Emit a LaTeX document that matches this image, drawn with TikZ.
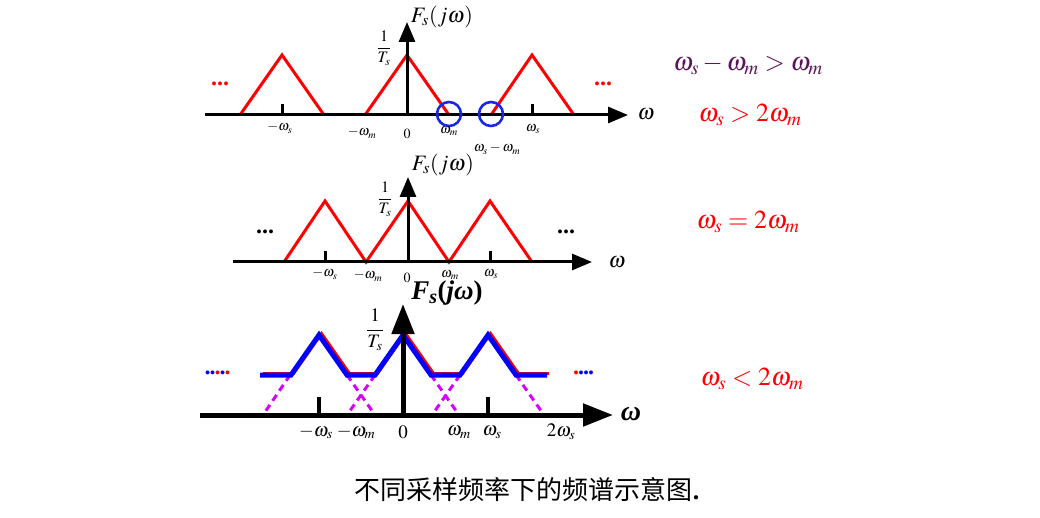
\documentclass[tikz,border=0pt]{standalone}
\usepackage{mathptmx}
\usepackage{fontspec}
\setmainfont{Liberation Serif}
\newfontfamily\cjkfont{Noto Sans CJK SC}
\usetikzlibrary{arrows.meta, positioning}
\definecolor{specred}{RGB}{255,0,0}
\definecolor{specblue}{RGB}{0,0,255}
\definecolor{ringblue}{RGB}{25,40,230}
\definecolor{aliasmag}{RGB}{215,0,255}
\definecolor{condpurple}{RGB}{90,20,90}
\newcommand{\bi}[1]{\textbf{\textit{#1}}}
\newcommand{\bd}[1]{\textcolor{specblue}{.}\kern-1pt}
\newcommand{\rd}[1]{\textcolor{specred}{.}\kern-1pt}
\tikzset{
  axis/.style={-{Triangle[length=20pt,width=16pt]}, line width=3pt, black},
  bigaxis/.style={-{Triangle[length=30pt,width=22pt]}, line width=5pt, black},
  tick/.style={line width=3pt, black},
  spec/.style={line width=3pt, specred, line join=miter},
  envred/.style={line width=3pt, specred},
  envblue/.style={line width=5pt, specblue},
  alias/.style={line width=3pt, aliasmag, dash pattern=on 7pt off 5pt},
  ring/.style={circle, draw=ringblue, line width=2.6pt, minimum size=24pt, inner sep=0pt},
  lab/.style={font=\fontsize{14}{16}\selectfont, inner sep=0pt},
  frac/.style={font=\fontsize{16}{18}\selectfont, inner sep=0pt},
  biglab/.style={font=\fontsize{19}{22}\selectfont, inner sep=0pt},
  title/.style={font=\fontsize{22}{24}\selectfont, inner sep=0pt},
  cond/.style={font=\fontsize{26}{30}\selectfont, inner sep=0pt},
  dots/.style={font=\fontsize{24}{26}\selectfont\bfseries, inner sep=0pt}
}
\begin{document}
\begin{tikzpicture}[x=1pt, y=-1pt]
  \useasboundingbox (0,0) rectangle (1040,518);

  % panel 1: omega_s > 2 omega_m
  \coordinate (a1l) at (205,115);
  \coordinate (a1r) at (628,115);
  \coordinate (o1) at (407,115);
  \coordinate (v1t) at (407,22);
  \draw[spec] (240,115) -- (282,55) -- (324,115);
  \draw[spec] (365,115) -- (407,55) -- (449,115);
  \draw[spec] (491,115) -- (532,55) -- (574,115);
  \draw[axis] (a1l) -- (a1r);
  \draw[axis] (o1) -- (v1t);
  \draw[tick] (282,115) -- (282,104);
  \draw[tick] (532,115) -- (532,104);
  \node[ring] (c1) at (449,114) {};
  \node[ring] (c2) at (491,114) {};
  \node[dots, specred] (d1l) at (220,84) {...};
  \node[dots, specred] (d1r) at (603,84) {...};
  \node[title] (f1) at (442,17) {$F_s(j\omega)$};
  \node[frac] (t1) at (384,48) {$\displaystyle\frac{1}{T_s}$};
  \node[title] (w1) at (646,114) {$\omega$};
  \node[lab] (n1a) at (280,128) {$-\omega_s$};
  \node[lab] (n1b) at (362,133) {$-\omega_m$};
  \node[lab] (n1c) at (407,134) {$0$};
  \node[lab] (n1d) at (449,131) {$\omega_m$};
  \node[lab] (n1e) at (533,129) {$\omega_s$};
  \node[lab] (n1f) at (497,149) {$\omega_s-\omega_m$};
  \node[cond, condpurple] (k1) at (748,65) {$\omega_s-\omega_m>\omega_m$};
  \node[cond, specred] (k2) at (750,115) {$\omega_s>2\omega_m$};

  % panel 2: omega_s = 2 omega_m
  \coordinate (a2l) at (233,262);
  \coordinate (a2r) at (592,262);
  \coordinate (o2) at (408,262);
  \coordinate (v2t) at (408,177);
  \draw[spec] (284,262) -- (325,201) -- (366,262) -- (408,201) -- (449,262)
    -- (490,201) -- (532,262);
  \draw[axis] (a2l) -- (a2r);
  \draw[axis] (o2) -- (v2t);
  \draw[tick] (325,262) -- (325,251);
  \draw[tick] (490,262) -- (490,251);
  \node[dots] (d2l) at (265,232) {...};
  \node[dots] (d2r) at (566,232) {...};
  \node[title] (f2) at (443,165) {$F_s(j\omega)$};
  \node[frac] (t2) at (385,199) {$\displaystyle\frac{1}{T_s}$};
  \node[title] (w2) at (617,262) {$\omega$};
  \node[lab] (n2a) at (325,274) {$-\omega_s$};
  \node[lab] (n2b) at (368,276) {$-\omega_m$};
  \node[lab] (n2c) at (407,278) {$0$};
  \node[lab] (n2d) at (450,275) {$\omega_m$};
  \node[lab] (n2e) at (491,274) {$\omega_s$};
  \node[cond, specred] (k3) at (748,222) {$\omega_s=2\omega_m$};

  % panel 3: omega_s < 2 omega_m
  \coordinate (a3l) at (200,415);
  \coordinate (a3r) at (613,415);
  \coordinate (o3) at (403,415);
  \coordinate (v3t) at (403,304);
  \draw[alias] (290,375) -- (263,415);
  \draw[alias] (347,375) -- (375,415);
  \draw[alias] (375,375) -- (347,415);
  \draw[alias] (431,375) -- (459,415);
  \draw[alias] (460,375) -- (432,415);
  \draw[alias] (516,375) -- (544,415);
  \draw[envred] (263,373.5) -- (293.5,373.5) -- (321.5,333.5) -- (349.5,373.5)
    -- (377.5,373.5) -- (405.5,333.5) -- (433.5,373.5) -- (462.5,373.5)
    -- (490.5,333.5) -- (518.5,373.5) -- (549,373.5);
  \draw[envblue] (260,375) -- (291,375) -- (319,335) -- (347,375) -- (375,375)
    -- (403,335) -- (431,375) -- (460,375) -- (488,335) -- (516,375) -- (547,375);
  \draw[bigaxis] (a3l) -- (a3r);
  \draw[bigaxis] (o3) -- (v3t);
  \draw[line width=4pt] (319,415) -- (319,397);
  \draw[line width=4pt] (488,415) -- (488,397);
  \node[dots] (d3l) at (217,373) {\bd{}\bd{}\rd{}\bd{}\rd{}};
  \node[dots] (d3r) at (583,373) {\rd{}\bd{}\bd{}\bd{}};
  \node[font=\fontsize{27}{30}\selectfont, inner sep=0pt] (f3) at (447,293)
    {\bi{F}\textsubscript{\bi{s}}\textbf{(}\bi{j}\bi{ω}\textbf{)}};
  \node[biglab] (t3) at (375,330) {$\displaystyle\frac{1}{T_s}$};
  \node[font=\fontsize{28}{30}\selectfont, inner sep=0pt] (w3) at (631,414) {\bi{ω}};
  \node[biglab] (n3a) at (316,432) {$-\omega_s$};
  \node[biglab] (n3b) at (356,432) {$-\omega_m$};
  \node[biglab] (n3c) at (403,432) {$0$};
  \node[biglab] (n3d) at (459,432) {$\omega_m$};
  \node[biglab] (n3e) at (492,432) {$\omega_s$};
  \node[biglab] (n3f) at (561,432) {$2\omega_s$};
  \node[cond, specred] (k4) at (752,379) {$\omega_s<2\omega_m$};

  % caption
  \node[font=\fontsize{26}{28}\selectfont, inner sep=0pt] (cap) at (527,490)
    {{\cjkfont 不同采样频率下的频谱示意图}\textbf{.}};
\end{tikzpicture}
\end{document}
